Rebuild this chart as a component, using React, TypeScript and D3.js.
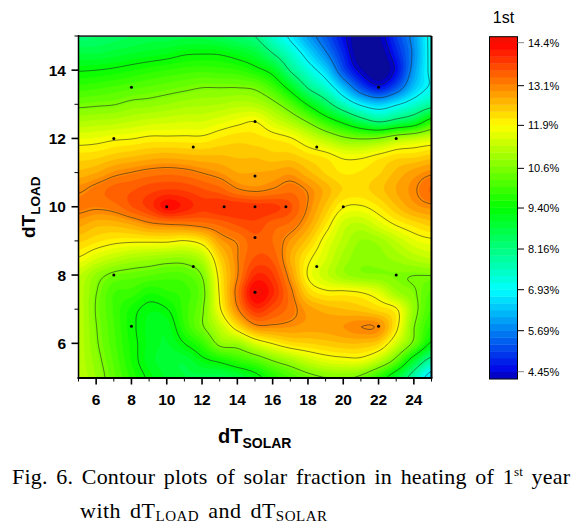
import React, { useMemo } from "react";
import * as d3 from "d3";

const xValues = d3.range(5, 26, 1);
const yValues = [15, 14.5, 14, 13.5, 13, 12.5, 12, 11.5, 11, 10.5, 10, 9.5, 9, 8.5, 8, 7.5, 7, 6.5, 6, 5.5, 5];

const row150 = [8.3,8.4,8.5,8.6,8.7,8.7,8.75,8.75,8.6,8.4,8.16,7.44,6.8,6.0,5.3,4.55,3.9,4.2,5.05,5.95,7.15];
const row145 = [8.8,8.8,8.9,9.0,9.1,9.2,9.35,9.38,9.35,9.15,8.85,8.16,7.43,6.6,5.75,4.8,3.9,4.0,4.8,5.85,7.15];
const row140 = [9.38,9.42,9.5,9.63,9.76,9.86,9.95,10.0,9.95,9.87,9.6,9.15,8.1,7.3,6.5,5.2,4.3,3.9,4.6,6.0,7.1];
const row135 = [9.93,10.0,10.1,10.2,10.3,10.4,10.5,10.6,10.6,10.6,10.5,10.0,9.15,8.1,7.4,6.3,5.2,4.65,5.3,6.4,7.05];
const row130 = [10.5,10.55,10.6,10.75,10.8,10.9,11.0,11.05,11.1,11.2,11.15,10.8,10.2,9.35,8.5,7.6,6.85,6.5,6.9,7.4,7.9];
const row125 = [11.1,11.15,11.2,11.3,11.4,11.45,11.5,11.5,11.65,11.8,11.9,11.5,11.1,10.55,9.85,9.25,8.6,8.16,8.5,8.9,9.8];
const row120 = [11.7,11.75,11.85,11.9,12.0,12.0,12.0,12.0,12.15,12.25,12.2,12.1,11.95,11.55,11.15,10.75,10.6,10.7,11.1,11.3,11.5];
const row115 = [12.2,12.25,12.4,12.5,12.6,12.65,12.6,12.55,12.55,12.5,12.5,12.4,12.4,12.2,12.05,11.8,11.8,12.0,12.2,12.25,12.4];
const row110 = [12.6,12.75,13.0,13.13,13.25,13.3,13.25,13.1,12.95,12.75,12.75,12.8,12.9,12.6,12.3,12.1,12.15,12.3,12.6,12.85,13.05];
const row105 = [13.05,13.25,13.45,13.55,13.7,13.8,13.75,13.6,13.45,13.15,13.05,13.15,13.3,13.05,12.65,12.3,12.25,12.45,12.75,13.05,13.4];
const row100 = [13.2,13.15,13.25,13.55,13.85,14.3,14.1,13.85,13.95,13.95,13.9,13.85,13.6,13.05,12.45,11.9,11.85,12.1,12.5,12.85,13.0];
const row095 = [12.8,12.6,12.6,12.75,13.0,13.1,13.15,13.25,13.4,13.6,13.7,13.45,13.3,12.8,12.1,11.4,11.25,11.6,11.95,12.2,12.4];
const row090 = [12.35,12.15,12.0,11.95,11.95,11.95,11.85,12.1,12.85,13.15,13.5,13.35,12.9,12.4,11.7,11.2,10.85,10.95,11.3,11.65,11.8];
const row085 = [11.85,11.5,11.25,11.05,10.95,10.85,10.85,11.2,12.35,13.1,13.6,13.5,12.7,12.0,11.5,11.0,10.75,10.8,10.95,11.15,11.3];
const row080 = [11.3,10.8,10.45,10.35,10.25,10.15,10.2,10.65,12.1,13.1,14.0,13.8,12.9,11.85,11.35,10.95,10.75,10.7,10.65,10.6,10.6];
const row075 = [11.2,10.6,10.05,9.95,9.65,9.8,9.95,10.45,12.0,13.3,14.45,14.0,13.2,12.3,12.0,12.0,11.9,11.6,10.95,10.65,10.2];
const row070 = [11.2,10.55,10.0,9.55,9.25,9.38,9.95,10.55,11.85,13.05,13.9,13.6,13.25,12.85,12.65,12.55,12.45,12.25,11.95,10.8,10.0];
const row065 = [11.2,10.6,10.05,9.5,9.15,9.1,9.85,10.55,11.3,12.2,12.95,13.0,12.95,12.85,12.85,12.95,13.1,13.0,12.0,10.6,9.75];
const row060 = [11.2,10.65,10.1,9.55,9.15,9.0,9.4,9.9,10.75,10.9,11.5,11.9,12.2,12.3,12.4,12.5,12.5,12.3,11.4,10.4,9.25];
const row055 = [11.2,10.75,10.2,9.6,9.1,8.9,8.85,9.25,9.5,9.85,10.15,10.6,10.95,11.35,11.6,11.7,11.7,11.2,10.3,8.9,7.8];
const row050 = [11.25,10.85,10.3,9.75,9.3,8.95,8.8,8.7,8.65,8.8,9.2,9.7,10.05,10.4,10.6,10.65,10.45,9.75,8.85,7.7,6.5];
const rows = [row150,row145,row140,row135,row130,row125,row120,row115,row110,row105,row100,row095,row090,row085,row080,row075,row070,row065,row060,row055,row050];

const pointX = [8,7,11.5,15,15,18.5,23,22,7,11.5,8,15,15,15,13.25,10,16.75,20,18.5,23,22];
const pointY = [13.5,12,11.75,12.5,10.9,11.75,12,13.5,8,8.25,6.5,7.5,9.1,10,10,10,10,10,8.25,8,6.5];

const lineLevels = [4.45,5.69,6.93,8.16,9.4,10.6,11.9,13.1];
const legendTicks = [14.4,13.1,11.9,10.6,9.4,8.16,6.93,5.69,4.45];
const legendLabels = ["14.4%","13.1%","11.9%","10.6%","9.40%","8.16%","6.93%","5.69%","4.45%"];
const xTicks = [6,8,10,12,14,16,18,20,22,24];
const yTicks = [6,8,10,12,14];

const W = 588, H = 528;
const x = d3.scaleLinear().domain([5,25]).range([78.5,431.5]);
const y = d3.scaleLinear().domain([5,15]).range([377.5,36]);
const legendY = d3.scaleLinear().domain([4.45,14.4]).range([371.7,42.7]);

const color = d3.scaleLinear<string>()
  .domain([4.2,4.45,6.93,9.4,11.9,13.15,14.4,14.7])
  .range(["#0a0a9a","#0000e6","#00ffff","#00ff00","#ffff00","#ff8000","#ff0000","#e02a00"])
  .clamp(true);

const bandStep = (14.4-4.45)/48;
const bandEdges = d3.range(-1,52).map(k => 4.45 + k*bandStep);

function cr(p0:number,p1:number,p2:number,p3:number,t:number){
  return 0.5*((2*p1)+(-p0+p2)*t+(2*p0-5*p1+4*p2-p3)*t*t+(-p0+3*p1-3*p2+p3)*t*t*t);
}
function sample(gx:number,gy:number){
  const nx=rows[0].length, ny=rows.length;
  const i=Math.min(Math.floor(gx),nx-2), j=Math.min(Math.floor(gy),ny-2);
  const tx=gx-i, ty=gy-j;
  const col:number[]=[];
  for(let b=-1;b<=2;b++){
    const r=rows[Math.max(0,Math.min(ny-1,j+b))];
    const at=(k:number)=>r[Math.max(0,Math.min(nx-1,k))];
    col.push(cr(at(i-1),at(i),at(i+1),at(i+2),tx));
  }
  return cr(col[0],col[1],col[2],col[3],ty);
}

export default function App(){
  const {fills,lines}=useMemo(()=>{
    const nx=354, ny=342;
    const vals=new Array(nx*ny);
    for(let j=0;j<ny;j++)for(let i=0;i<nx;i++){
      vals[j*nx+i]=sample(i/(nx-1)*(rows[0].length-1),j/(ny-1)*(rows.length-1));
    }
    const proj=d3.geoTransform({point(px:number,py:number){
      // @ts-ignore
      this.stream.point(x(5+px/(nx-1)*20), y(15-py/(ny-1)*10));
    }});
    const path=d3.geoPath(proj);
    const gen=d3.contours().size([nx,ny]).smooth(true);
    const fills=bandEdges.map(t=>({d:path(gen.contour(vals,t) as any)||"",c:color(t+bandStep/2)}));
    const lines=lineLevels.map(t=>path(gen.contour(vals,t) as any)||"");
    return {fills,lines};
  },[]);

  const sansBold="'Liberation Sans', Arial, sans-serif";
  return (
    <svg width={W} height={H} style={{position:"absolute",left:0,top:0,background:"#fff"}}>
      <defs><clipPath id="plot"><rect x={x(5)} y={y(15)} width={x(25)-x(5)} height={y(5)-y(15)}/></clipPath></defs>
      <g clipPath="url(#plot)">
        <rect x={x(5)} y={y(15)} width={x(25)-x(5)} height={y(5)-y(15)} fill={color(4.2)}/>
        {fills.map((f,i)=><path key={i} d={f.d} fill={f.c} stroke={f.c} strokeWidth={0.3}/>)}
        {lines.map((d,i)=><path key={i} d={d} fill="none" stroke="#222" strokeWidth={0.7} strokeOpacity={0.8}/>)}
      </g>
      {pointX.map((px,i)=><circle key={i} cx={x(px)} cy={y(pointY[i])} r={1.5} fill="#000"/>)}

      <line x1={x(5)} x2={x(25)} y1={y(15)} y2={y(15)} stroke="#333" strokeWidth={1.5}/>
      <line x1={x(25)} x2={x(25)} y1={y(15)} y2={y(5)} stroke="#000" strokeWidth={2}/>
      <line x1={x(5)} x2={x(5)} y1={y(15)-1} y2={y(5)+1} stroke="#000" strokeWidth={1.5}/>
      <line x1={x(5)-1} x2={x(25)+1} y1={y(5)+0.5} y2={y(5)+0.5} stroke="#000" strokeWidth={2}/>

      {d3.range(5,26).map(v=><line key={v} x1={x(v)} x2={x(v)} y1={y(5)} y2={y(5)+(v%2===0?7:4)} stroke="#000" strokeWidth={v%2===0?1.6:1}/>)}
      {d3.range(6,16).map(v=><line key={v} y1={y(v)} y2={y(v)} x1={x(5)} x2={x(5)-(v%2===0?7:4)} stroke="#000" strokeWidth={v%2===0?1.6:1}/>)}

      {xTicks.map(v=><text key={v} x={x(v)} y={405} textAnchor="middle" fontFamily={sansBold} fontWeight="bold" fontSize={15.5}>{v}</text>)}
      {yTicks.map(v=><text key={v} x={66} y={y(v)+5.5} textAnchor="end" fontFamily={sansBold} fontWeight="bold" fontSize={15.5}>{v}</text>)}

      <text x={218} y={443} fontFamily={sansBold} fontWeight="bold" fontSize={20}>dT<tspan dy={5} fontSize={14}>SOLAR</tspan></text>
      <text transform="translate(35,238) rotate(-90)" fontFamily={sansBold} fontWeight="bold" fontSize={19}>dT<tspan dy={5} fontSize={13.5}>LOAD</tspan></text>

      <text x={503.5} y={23} textAnchor="middle" fontFamily={sansBold} fontSize={16}>1st</text>
      {bandEdges.map((t,i)=>{
        const top=Math.max(36.7,legendY(t+bandStep));
        const bot=Math.min(379,legendY(t));
        if(bot<=top)return null;
        return <rect key={i} x={489.5} width={28} y={top} height={bot-top+0.4} fill={color(t+bandStep/2)}/>;
      })}
      <rect x={489.5} y={36.7} width={28} height={342.3} fill="none" stroke="#000" strokeWidth={1}/>
      {legendTicks.map((t,i)=>(
        <g key={t}>
          <line x1={517.5} x2={524} y1={legendY(t)} y2={legendY(t)} stroke={i===0||i===legendTicks.length-1?"#888":"#000"} strokeWidth={1}/>
          <text x={528} y={legendY(t)+4} fontFamily={sansBold} fontSize={11}>{legendLabels[i]}</text>
        </g>
      ))}

      <text x={12} y={484} fontFamily="'Liberation Serif', serif" fontSize={22} wordSpacing={3} textLength={558} lengthAdjust="spacing">Fig. 6. Contour plots of solar fraction in heating of 1<tspan dy={-8} fontSize={13}>st</tspan><tspan dy={8}> year</tspan></text>
      <text x={80} y={518} fontFamily="'Liberation Serif', serif" fontSize={22} wordSpacing={3} textLength={247} lengthAdjust="spacing">with dT<tspan dy={3} fontSize={15}>LOAD</tspan><tspan dy={-3}> and dT</tspan><tspan dy={3} fontSize={15}>SOLAR</tspan></text>
    </svg>
  );
}
